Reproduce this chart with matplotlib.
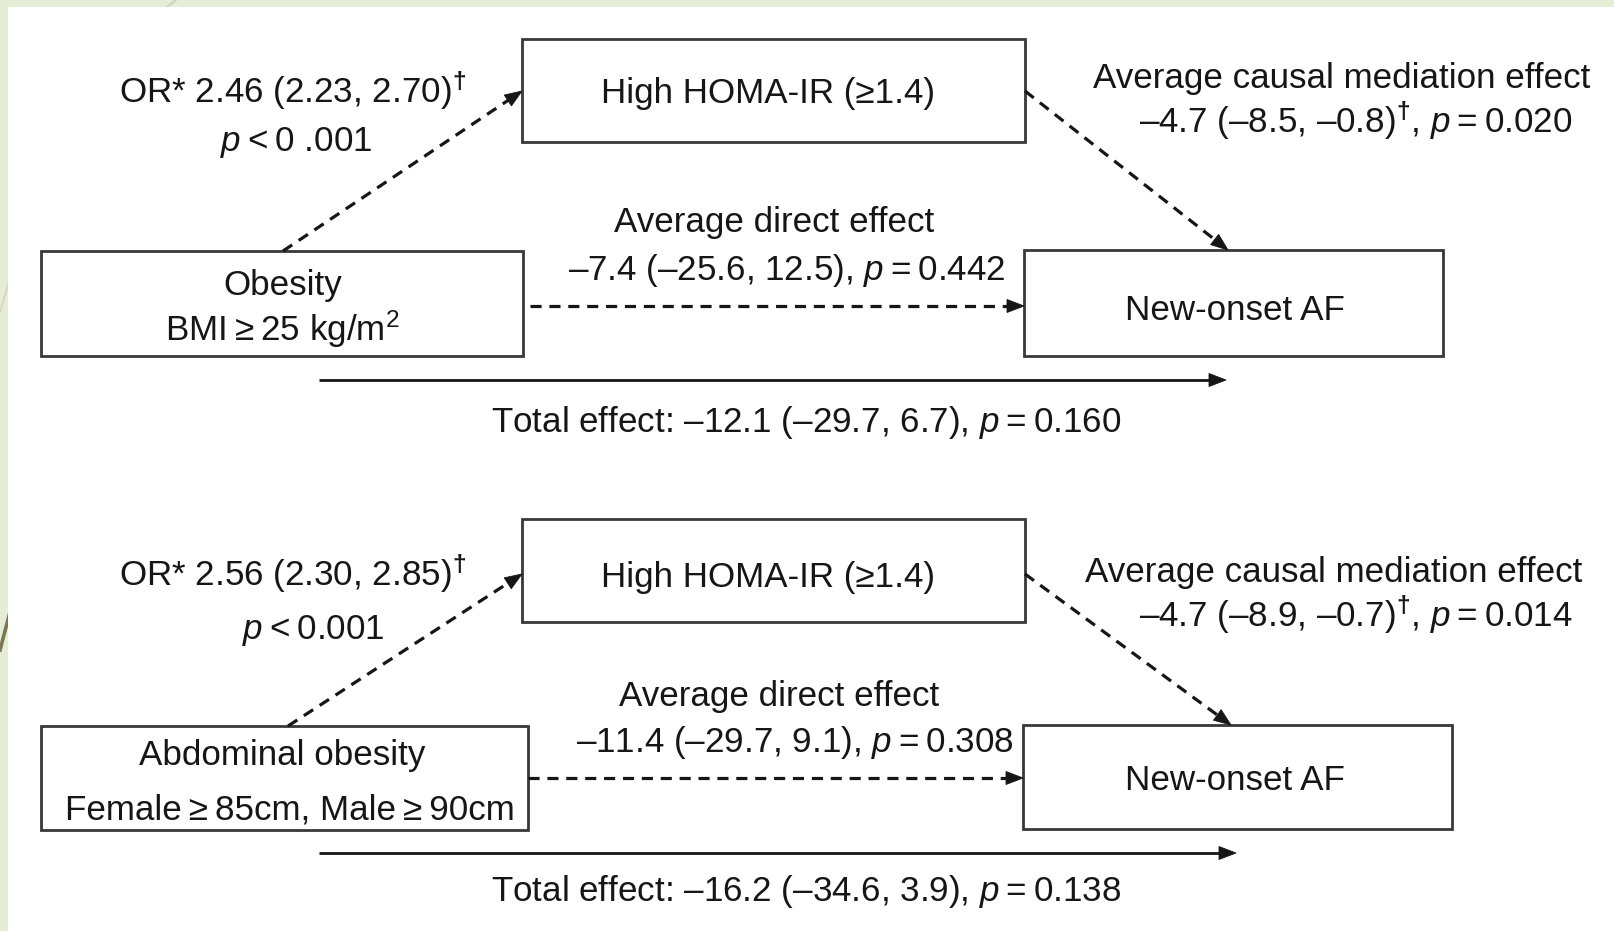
import numpy as np
import matplotlib
matplotlib.use("Agg")
import matplotlib.pyplot as plt
from matplotlib.patches import Rectangle, Polygon

plt.rcParams["font.family"] = ["Liberation Sans", "DejaVu Sans"]
plt.rcParams["mathtext.fontset"] = "custom"
plt.rcParams["mathtext.rm"] = "Liberation Sans"
plt.rcParams["mathtext.it"] = "Liberation Sans:italic"
plt.rcParams["mathtext.bf"] = "Liberation Sans:bold"
plt.rcParams["lines.scale_dashes"] = False

# ---- model content -------------------------------------------------------
exposure_titles = ["Obesity", "Abdominal obesity"]
exposure_defs = ["BMI\u2009≥\u200925 kg/m$^2$", "Female\u2009≥\u200985cm, Male\u2009≥\u200990cm"]
mediator_label = "High HOMA-IR (≥1.4)"
outcome_label = "New-onset AF"

# odds ratio of the exposure for the mediator
or_est = [2.46, 2.56]
or_lo = [2.23, 2.30]
or_hi = [2.70, 2.85]
or_p = ["0 .001", "0.001"]

# average causal mediation effect
acme_est = [-4.7, -4.7]
acme_lo = [-8.5, -8.9]
acme_hi = [-0.8, -0.7]
acme_p = [0.020, 0.014]

# average direct effect
ade_est = [-7.4, -11.4]
ade_lo = [-25.6, -29.7]
ade_hi = [12.5, 9.1]
ade_p = [0.442, 0.308]

# total effect
total_est = [-12.1, -16.2]
total_lo = [-29.7, -34.6]
total_hi = [6.7, 3.9]
total_p = [0.160, 0.138]

# ---- layout (pixel space, y downwards) -----------------------------------
W, H = 1615, 931
panels = [
    dict(med_box=(522, 39, 1025, 142), exp_box=(41, 251, 523, 356), out_box=(1024, 250, 1443, 356),
         or_arrow=((283, 251), (522, 91)), med_arrow=((1025, 91), (1228, 250)),
         dir_arrow=((530, 306), (1024, 306)), tot_arrow=((319, 380), (1226, 380)),
         or_txt=(293, 103), orp_txt=(296, 151), med_txt=(768, 103),
         acme1_txt=(1342, 88), acme2_txt=(1356, 133),
         ade1_txt=(774, 232), ade2_txt=(787, 280),
         exp1_txt=(283, 295), exp2_txt=(282, 341), out_txt=(1235, 320), tot_txt=(806, 432)),
    dict(med_box=(522, 519, 1025, 622), exp_box=(41, 726, 528, 830), out_box=(1023, 725, 1452, 829),
         or_arrow=((288, 726), (522, 574)), med_arrow=((1025, 574), (1231, 725)),
         dir_arrow=((528, 778), (1023, 778)), tot_arrow=((319, 853), (1236, 853)),
         or_txt=(293, 586), orp_txt=(313, 639), med_txt=(768, 587),
         acme1_txt=(1334, 582), acme2_txt=(1356, 627),
         ade1_txt=(779, 706), ade2_txt=(795, 752),
         exp1_txt=(282, 765), exp2_txt=(290, 819), out_txt=(1235, 790), tot_txt=(806, 901)),
]

INK = "#161616"
EDGE = "#383838"
FS = 25.2


def num(v, digits=1):
    s = f"{abs(v):.{digits}f}"
    return ("–" if v < 0 else "") + s


def ptxt(p):
    return f"$p$\u2009=\u2009{p:.3f}"


DAGGER = "$^{\\mathbf{\\dagger}}$"


def draw_arrow(ax, p0, p1, dashed):
    p0 = np.asarray(p0, float)
    p1 = np.asarray(p1, float)
    d = p1 - p0
    u = d / np.hypot(*d)
    n = np.array([-u[1], u[0]])
    head_len, head_w = 17, 13
    base = p1 - u * head_len
    kw = dict(color=INK, lw=2.3 if dashed else 2.0, solid_capstyle="butt", dash_capstyle="butt")
    if dashed:
        kw["dashes"] = (8.0, 5.6)
    ax.plot([p0[0], base[0] + u[0] * 2], [p0[1], base[1] + u[1] * 2], **kw)
    tri = [p1, base + n * head_w / 2, base - n * head_w / 2]
    ax.add_patch(Polygon(tri, closed=True, fc=INK, ec=INK, lw=0.6, zorder=3))


def draw_box(ax, box):
    x0, y0, x1, y1 = box
    ax.add_patch(Rectangle((x0, y0), x1 - x0, y1 - y0, fc="white", ec=EDGE, lw=2.0, zorder=2))


fig = plt.figure(figsize=(W / 100, H / 100), dpi=100)
fig.patch.set_facecolor("#e6edd6")
ax = fig.add_axes([0, 0, 1, 1])
ax.set_xlim(0, W)
ax.set_ylim(H, 0)
ax.axis("off")

# slide decoration behind the white panel
ax.plot([176, 163], [0, 10], color="#cfd6bd", lw=1.5, zorder=0)
ax.plot([10, 0], [278, 312], color="#d3d9c2", lw=1.5, zorder=0)
ax.plot([10, 0], [612, 650], color="#7b7656", lw=2.6, zorder=0)
ax.add_patch(Rectangle((8, 7), W - 8, H - 7, fc="white", ec="none", zorder=1))

for i, L in enumerate(panels):
    for key in ("med_box", "exp_box", "out_box"):
        draw_box(ax, L[key])
    draw_arrow(ax, *L["or_arrow"], dashed=True)
    draw_arrow(ax, *L["med_arrow"], dashed=True)
    draw_arrow(ax, *L["dir_arrow"], dashed=True)
    draw_arrow(ax, *L["tot_arrow"], dashed=False)

    txt = dict(fontsize=FS, color=INK, ha="center", va="baseline", zorder=4)
    ax.text(*L["or_txt"], f"OR* {or_est[i]:.2f} ({or_lo[i]:.2f}, {or_hi[i]:.2f}){DAGGER}", **txt)
    ax.text(*L["orp_txt"], f"$p$\u2009<\u2009{or_p[i]}", **txt)
    ax.text(*L["med_txt"], mediator_label, **txt)
    ax.text(*L["acme1_txt"], "Average causal mediation effect", **txt)
    ax.text(*L["acme2_txt"],
            f"{num(acme_est[i])} ({num(acme_lo[i])}, {num(acme_hi[i])}){DAGGER}, {ptxt(acme_p[i])}", **txt)
    ax.text(*L["ade1_txt"], "Average direct effect", **txt)
    ax.text(*L["ade2_txt"], f"{num(ade_est[i])} ({num(ade_lo[i])}, {num(ade_hi[i])}), {ptxt(ade_p[i])}", **txt)
    ax.text(*L["exp1_txt"], exposure_titles[i], **txt)
    ax.text(*L["exp2_txt"], exposure_defs[i], **txt)
    ax.text(*L["out_txt"], outcome_label, **txt)
    ax.text(*L["tot_txt"],
            f"Total effect: {num(total_est[i])} ({num(total_lo[i])}, {num(total_hi[i])}), {ptxt(total_p[i])}", **txt)

fig.savefig("out.png", dpi=100, facecolor=fig.get_facecolor())
